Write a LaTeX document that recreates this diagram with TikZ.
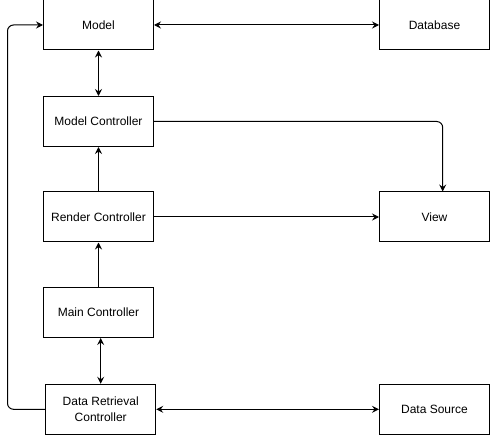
\documentclass[tikz,border=0pt]{standalone}
\usepackage{fontspec}
\setmainfont{Liberation Sans}
\usetikzlibrary{arrows.meta}
\tikzset{
  box/.style={draw, line width=1pt, minimum width=110pt, minimum height=50pt, inner sep=0pt, align=center, font=\fontsize{12}{16}\selectfont},
  conn/.style={line width=1pt},
  arr/.style={conn, -{Stealth[length=7pt,width=7pt,inset=2.5pt]}},
  dbl/.style={conn, {Stealth[length=7pt,width=7pt,inset=2.5pt]}-{Stealth[length=7pt,width=7pt,inset=2.5pt]}}
}
\begin{document}
\begin{tikzpicture}[x=1pt,y=-1pt]
\useasboundingbox (0,0) rectangle (491,436);
\node[box] (model) at (98.5,25) {Model};
\node[box] (database) at (434.5,25) {Database};
\node[box] (mc) at (98.5,121.5) {Model Controller};
\node[box] (rc) at (98.5,217) {Render Controller};
\node[box] (view) at (434.5,217) {View};
\node[box] (main) at (98.5,312.5) {Main Controller};
\node[box] (drc) at (100.7,409.3) {Data Retrieval\\Controller};
\node[box] (ds) at (434.5,409.3) {Data Source};
\coordinate (lc) at (7.5,0);
\coordinate (vc) at (442.7,0);
\draw[dbl] (model) -- (database);
\draw[dbl] (model) -- (mc);
\draw[arr, rounded corners=6pt] (mc.east) -| (vc |- view.north);
\draw[arr] (rc) -- (mc);
\draw[arr] (rc) -- (view);
\draw[arr] (main) -- (rc);
\draw[dbl] (main.south -| drc.north) -- (drc.north);
\draw[dbl] (drc) -- (ds);
\draw[arr, rounded corners=6pt] (drc.west) -| (lc |- model.west) -- (model.west);
\end{tikzpicture}
\end{document}
